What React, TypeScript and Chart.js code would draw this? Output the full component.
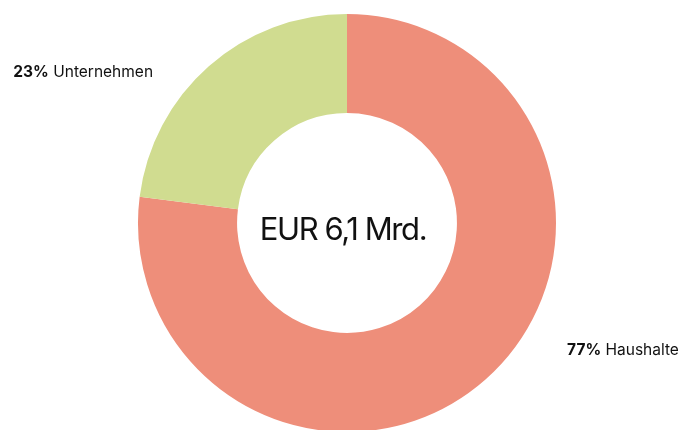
import React, { useEffect, useRef } from "react";
import { Chart, registerables } from "chart.js";

Chart.register(...registerables);

const categories = ["Haushalte", "Unternehmen"];
const shares = [77, 23];
const colors = ["#EE8E7A", "#D0DC90"];
const centerText = "EUR 6,1 Mrd.";

const FONT = "Inter, 'DejaVu Sans', sans-serif";

const labelPlugin = {
  id: "labelsAndCenter",
  afterDraw(chart: any) {
    const ctx = chart.ctx;
    const meta = chart.getDatasetMeta(0);
    const arc0 = meta.data[0];
    if (!arc0) return;
    const cx = arc0.x;
    const cy = arc0.y;
    const r = arc0.outerRadius;
    ctx.save();
    ctx.fillStyle = "#111";
    ctx.textBaseline = "alphabetic";
    ctx.textAlign = "center";
    ctx.font = `400 31px ${FONT}`;
    (ctx as any).letterSpacing = "-1.4px";
    ctx.fillText(centerText, cx - 4, cy + 17);
    (ctx as any).letterSpacing = "0px";

    meta.data.forEach((arc: any, i: number) => {
      const mid = (arc.startAngle + arc.endAngle) / 2;
      const right = Math.cos(mid) >= 0;
      const pct = `${shares[i]}%`;
      const name = ` ${categories[i]}`;
      let x: number, y: number;
      if (right) {
        x = cx + r * 1.053;
        y = cy + r * 0.63;
      } else {
        x = cx - r * 0.928;
        y = cy - r * 0.697;
      }
      ctx.font = `700 15.5px ${FONT}`;
      const wp = ctx.measureText(pct).width;
      ctx.font = `400 15.5px ${FONT}`;
      const wn = ctx.measureText(name).width;
      const startX = right ? x : x - wp - wn;
      ctx.textAlign = "left";
      ctx.font = `700 15.5px ${FONT}`;
      ctx.fillText(pct, startX, y);
      ctx.font = `400 15.5px ${FONT}`;
      ctx.fillText(name, startX + wp, y);
    });
    ctx.restore();
  },
};

export default function App() {
  const ref = useRef<HTMLCanvasElement | null>(null);
  useEffect(() => {
    document.body.style.margin = "0";
    document.body.style.overflow = "hidden";
    const chart = new Chart(ref.current as HTMLCanvasElement, {
      type: "doughnut",
      data: {
        labels: categories,
        datasets: [
          {
            data: shares,
            backgroundColor: colors,
            borderWidth: 0,
          },
        ],
      },
      options: {
        animation: false,
        responsive: false,
        radius: 209,
        cutout: "52.6%",
        layout: { padding: { left: 15, top: 16, right: 0, bottom: 0 } },
        plugins: {
          legend: { display: false },
          tooltip: { enabled: false },
        },
      } as any,
      plugins: [labelPlugin],
    });
    return () => chart.destroy();
  }, []);
  return (
    <div style={{ position: "fixed", left: 0, top: 0, width: 679, height: 430 }}>
      <canvas ref={ref} width={679} height={430} style={{ width: 679, height: 430 }} />
    </div>
  );
}
